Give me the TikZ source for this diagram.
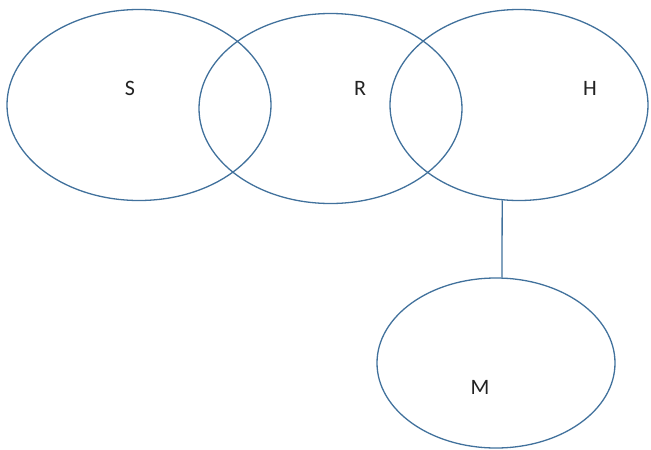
\documentclass[tikz,border=0pt]{standalone}
\usepackage{fontspec}
\setmainfont{Carlito}
\usetikzlibrary{shapes.geometric}
\definecolor{outl}{HTML}{41719C}
\definecolor{txt}{HTML}{222222}
\begin{document}
\begin{tikzpicture}[x=1pt,y=-1pt,
  set/.style={draw=outl,line width=1.3pt,ellipse,inner sep=0pt},
  lab/.style={text=txt,font=\fontsize{22}{22}\selectfont,inner sep=0pt}]
\useasboundingbox (0,0) rectangle (651,450);
\node[set,minimum width=264pt,minimum height=191pt] (S) at (139,105) {};
\node[set,minimum width=263pt,minimum height=190pt] (R) at (330.5,108.5) {};
\node[set,minimum width=258pt,minimum height=191pt] (H) at (519,105) {};
\node[set,minimum width=238pt,minimum height=170pt] (M) at (496,363) {};
\node[lab] (tS) at (130,88) {S};
\node[lab] (tR) at (360,88) {R};
\node[lab] (tH) at (590,88) {H};
\node[lab] (tM) at (480,387) {M};
\draw[draw=outl,line width=1.3pt] (H.260) -- (M.86);
\end{tikzpicture}
\end{document}
